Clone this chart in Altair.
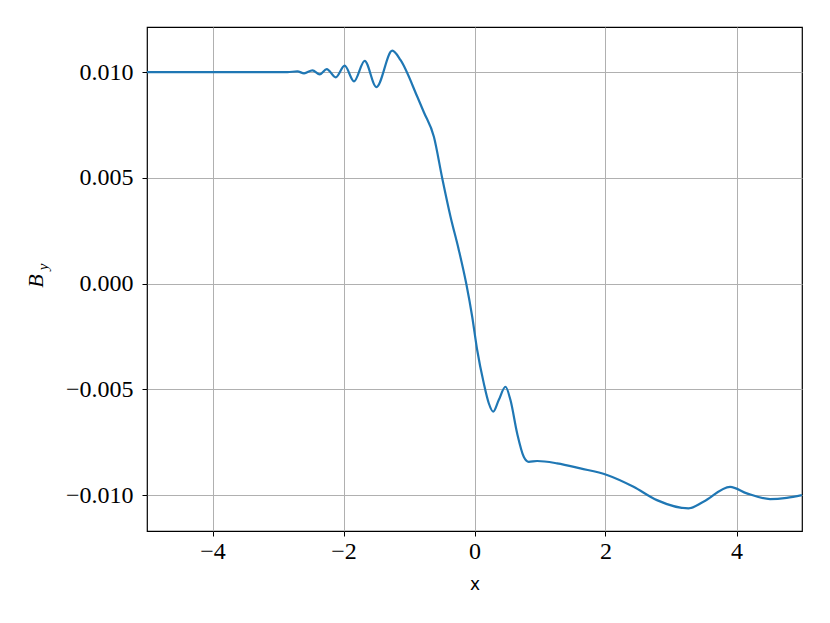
import altair as alt
import pandas as pd

xs = [-5.0, -4.5, -4.0, -3.5, -3.0, -2.855, -2.703, -2.602, -2.474, -2.363, -2.256, -2.119,
      -1.982, -1.840, -1.677, -1.498, -1.255, -1.128, -0.873, -0.773, -0.620, -0.492,
      -0.366, -0.239, -0.127, -0.035, 0.041, 0.142, 0.218, 0.285, 0.370, 0.473, 0.549,
      0.651, 0.752, 0.828, 0.956, 1.261, 1.616, 2.023, 2.428, 2.785, 3.267, 3.495, 3.902,
      4.157, 4.512, 4.767, 5.0]
ys = [0.0100, 0.0100, 0.0100, 0.0100, 0.0100, 0.0100, 0.01003, 0.00994, 0.01008, 0.00989,
      0.01014, 0.00975, 0.01030, 0.00956, 0.01053, 0.00929, 0.01101, 0.01056, 0.00883,
      0.00810, 0.00694, 0.00497, 0.00316, 0.00158, 0.00001, -0.00157, -0.00314,
      -0.00472, -0.00566, -0.00606, -0.00551, -0.00488, -0.00551, -0.00708, -0.00819,
      -0.00843, -0.00839, -0.00850, -0.00874, -0.00905, -0.00961, -0.01024, -0.01063,
      -0.01032, -0.00961, -0.00992, -0.01019, -0.01013, -0.01000]

x_ticks = [-4, -2, 0, 2, 4]
y_ticks = [-0.010, -0.005, 0.000, 0.005, 0.010]

df = pd.DataFrame({"x": xs, "y": ys})

SERIF = "Liberation Serif"

line = alt.Chart(df).mark_line(color="#1f77b4", strokeWidth=2.2, interpolate="monotone", clip=True).encode(
    x=alt.X("x:Q", scale=alt.Scale(domain=[-5, 5], nice=False, zero=False),
            axis=alt.Axis(values=x_ticks, title="x", format="d")),
    y=alt.Y("y:Q", scale=alt.Scale(domain=[-0.0117, 0.01213], nice=False, zero=False),
            axis=alt.Axis(values=y_ticks, title=None, format=".3f")),
)

title_b = alt.Chart(pd.DataFrame({"t": ["B"]})).mark_text(
    font=SERIF, fontStyle="italic", fontSize=22, angle=270, color="black"
).encode(text="t:N", x=alt.value(-111), y=alt.value(254))
title_y = alt.Chart(pd.DataFrame({"t": ["y"]})).mark_text(
    font=SERIF, fontStyle="italic", fontSize=15, angle=270, color="black"
).encode(text="t:N", x=alt.value(-104), y=alt.value(240))

chart = alt.layer(line, title_b, title_y).properties(
    width=655, height=504,
    background="white",
    autosize=alt.AutoSizeParams(type="none"),
    padding={"left": 139, "top": 19, "right": 20, "bottom": 80},
).configure_view(
    stroke="black", strokeWidth=1.2
).configure_axis(
    grid=True, gridColor="#b0b0b0", gridWidth=1,
    domain=False, tickColor="black", tickSize=5, tickWidth=1,
    labelFont=SERIF, labelFontSize=24, labelColor="black",
    titleFont="DejaVu Sans", titleFontSize=17, titleFontWeight="normal", titleColor="black",
).configure_axisX(labelPadding=3, titlePadding=13).configure_axisY(labelPadding=9)

chart.save("out.html", embed_options={"renderer": "svg", "actions": False})
